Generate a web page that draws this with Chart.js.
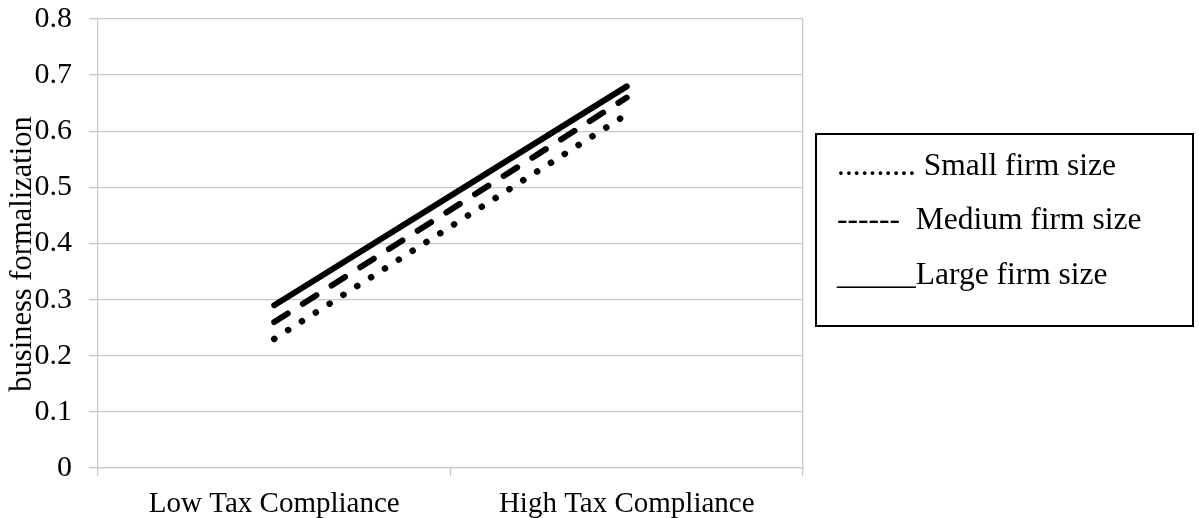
<!DOCTYPE html>
<html>
<head>
<meta charset="utf-8">
<script src="https://cdn.jsdelivr.net/npm/chart.js@4/dist/chart.umd.min.js"></script>
<style>
  html, body { margin: 0; padding: 0; background: #fff; }
</style>
</head>
<body>
<canvas id="chart" width="1199" height="518"></canvas>
<script>
// Interaction plot: business formalization by tax compliance level and firm size
const categories = ['Low Tax Compliance', 'High Tax Compliance'];
const smallFirm  = [0.23, 0.63];
const mediumFirm = [0.26, 0.66];
const largeFirm  = [0.29, 0.68];
const yTicks = [0, 0.1, 0.2, 0.3, 0.4, 0.5, 0.6, 0.7, 0.8];
const yTitle = 'business formalization';
const legendLines = ['.......... Small firm size', '------  Medium firm size', '_____Large firm size'];

const serif = '"Liberation Serif", "DejaVu Serif", serif';
const gridGray = '#c9c9c9';

// Rotated axis title and the boxed text legend
const annotations = {
  id: 'annotations',
  afterDraw(chart) {
    const ctx = chart.ctx;
    ctx.save();
    ctx.fillStyle = '#000';
    ctx.textBaseline = 'alphabetic';

    // y-axis title, read bottom to top
    ctx.save();
    ctx.translate(31, 254);
    ctx.rotate(-Math.PI / 2);
    ctx.textAlign = 'center';
    ctx.font = '30.5px ' + serif;
    ctx.fillText(yTitle, 0, 0);
    ctx.restore();

    // legend box
    ctx.strokeStyle = '#000';
    ctx.lineWidth = 2;
    ctx.strokeRect(816, 134, 377, 192);
    ctx.textAlign = 'left';
    ctx.font = '31.5px ' + serif;
    const baselines = [175, 229, 284];
    legendLines.forEach((t, i) => ctx.fillText(t, 837, baselines[i]));
    ctx.restore();
  }
};

new Chart(document.getElementById('chart'), {
  type: 'line',
  data: {
    labels: categories,
    datasets: [
      { label: 'Small firm size', data: smallFirm, borderColor: '#000', borderWidth: 6.5,
        borderDash: [0.1, 16.3], borderCapStyle: 'round', pointRadius: 0, tension: 0 },
      { label: 'Medium firm size', data: mediumFirm, borderColor: '#000', borderWidth: 6,
        borderDash: [16, 18], borderCapStyle: 'round', pointRadius: 0, tension: 0 },
      { label: 'Large firm size', data: largeFirm, borderColor: '#000', borderWidth: 6,
        borderCapStyle: 'round', pointRadius: 0, tension: 0 }
    ]
  },
  plugins: [annotations],
  options: {
    responsive: false,
    animation: false,
    devicePixelRatio: 1,
    layout: { padding: { top: 19, right: 396, left: 0, bottom: 0 } },
    plugins: { legend: { display: false }, tooltip: { enabled: false } },
    scales: {
      x: {
        type: 'category',
        offset: true,
        grid: { offset: true, drawOnChartArea: false, drawTicks: true, tickLength: 8, color: gridGray, lineWidth: 1.3 },
        border: { color: gridGray, width: 1.3 },
        ticks: { color: '#000', font: { family: serif, size: 29 }, padding: 11, maxRotation: 0 },
        afterFit: s => { s.height = 50; s.paddingLeft = 0; s.paddingRight = 0; }
      },
      y: {
        min: 0, max: 0.8,
        afterBuildTicks: s => { s.ticks = yTicks.map(v => ({ value: v })); },
        grid: { color: gridGray, lineWidth: 1.3, drawTicks: true, tickLength: 9 },
        border: { color: gridGray, width: 1.3 },
        ticks: { color: '#000', font: { family: serif, size: 30 }, padding: 17,
                 callback: v => String(Math.round(v * 10) / 10) },
        afterFit: s => { s.width = 98; s.paddingTop = 0; s.paddingBottom = 0; }
      },
      yRight: {
        position: 'right',
        min: 0, max: 0.8,
        ticks: { display: false },
        grid: { drawOnChartArea: false, drawTicks: false },
        border: { color: gridGray, width: 1.3 },
        afterFit: s => { s.width = 0; s.paddingTop = 0; s.paddingBottom = 0; }
      }
    }
  }
});
</script>
</body>
</html>
